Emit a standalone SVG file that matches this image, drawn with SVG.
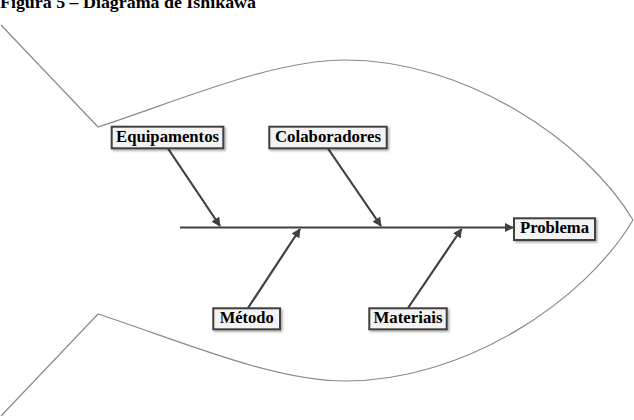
<svg xmlns="http://www.w3.org/2000/svg" width="634" height="420" viewBox="0 0 634 420">
<style>
.fish{fill:none;stroke:#8a8a8a;stroke-width:1.2}
.conn{fill:none;stroke:#404040;stroke-width:2.2;marker-end:url(#ah)}
.box{fill:#f3f3f3;stroke:#404040;stroke-width:2;filter:url(#sh)}
.lbl{font-family:"Liberation Serif","Times New Roman",serif;font-weight:bold;font-size:16px;fill:#000;text-anchor:middle}
.title{font-family:"Liberation Serif","Times New Roman",serif;font-weight:bold;font-size:16px;fill:#000}
</style>
<defs>
<marker id="ah" viewBox="0 0 10 10" refX="9" refY="5" markerWidth="4.2" markerHeight="4.2" orient="auto" markerUnits="strokeWidth">
<path d="M0,0 L10,5 L0,10 Z" fill="#404040"/>
</marker>
<filter id="sh" x="-10%" y="-20%" width="130%" height="160%">
<feDropShadow dx="1.5" dy="1.5" stdDeviation="1" flood-color="#000" flood-opacity="0.35"/>
</filter>
</defs>
<rect width="634" height="420" fill="#fff"/>
<text class="title" x="0" y="7.5" textLength="256" lengthAdjust="spacingAndGlyphs">Figura 5 – Diagrama de Ishikawa</text>
<g id="fish">
<path class="fish" d="M1,25 L98,127 C178,101 272,60 345,60 C465,60 585,140 633,220 C585,301 465,381 345,381 C272,381 178,340 98,314 L1,416"/>
</g>
<g id="connectors">
<line class="conn" x1="180" y1="227.5" x2="513" y2="227.5"/>
<line class="conn" x1="168" y1="148.5" x2="220" y2="226"/>
<line class="conn" x1="328" y1="148.5" x2="381" y2="226"/>
<line class="conn" x1="248" y1="308" x2="300" y2="229"/>
<line class="conn" x1="408" y1="308" x2="461.5" y2="229"/>
</g>
<g id="equipamentos">
<rect class="box" x="111.7" y="126.7" width="111.6" height="21.6"/>
<text class="lbl" x="167.5" y="142.3" textLength="103" lengthAdjust="spacingAndGlyphs">Equipamentos</text>
</g>
<g id="colaboradores">
<rect class="box" x="269.3" y="126.7" width="117.4" height="21.6"/>
<text class="lbl" x="328" y="142.3" textLength="106" lengthAdjust="spacingAndGlyphs">Colaboradores</text>
</g>
<g id="problema">
<rect class="box" x="514" y="218.3" width="81" height="21.7"/>
<text class="lbl" x="554.5" y="233" textLength="69" lengthAdjust="spacingAndGlyphs">Problema</text>
</g>
<g id="metodo">
<rect class="box" x="213.3" y="308.3" width="66.7" height="21"/>
<text class="lbl" x="246.7" y="323" textLength="54" lengthAdjust="spacingAndGlyphs">Método</text>
</g>
<g id="materiais">
<rect class="box" x="369.3" y="308.3" width="77.4" height="21"/>
<text class="lbl" x="408" y="323" textLength="69" lengthAdjust="spacingAndGlyphs">Materiais</text>
</g>
</svg>
